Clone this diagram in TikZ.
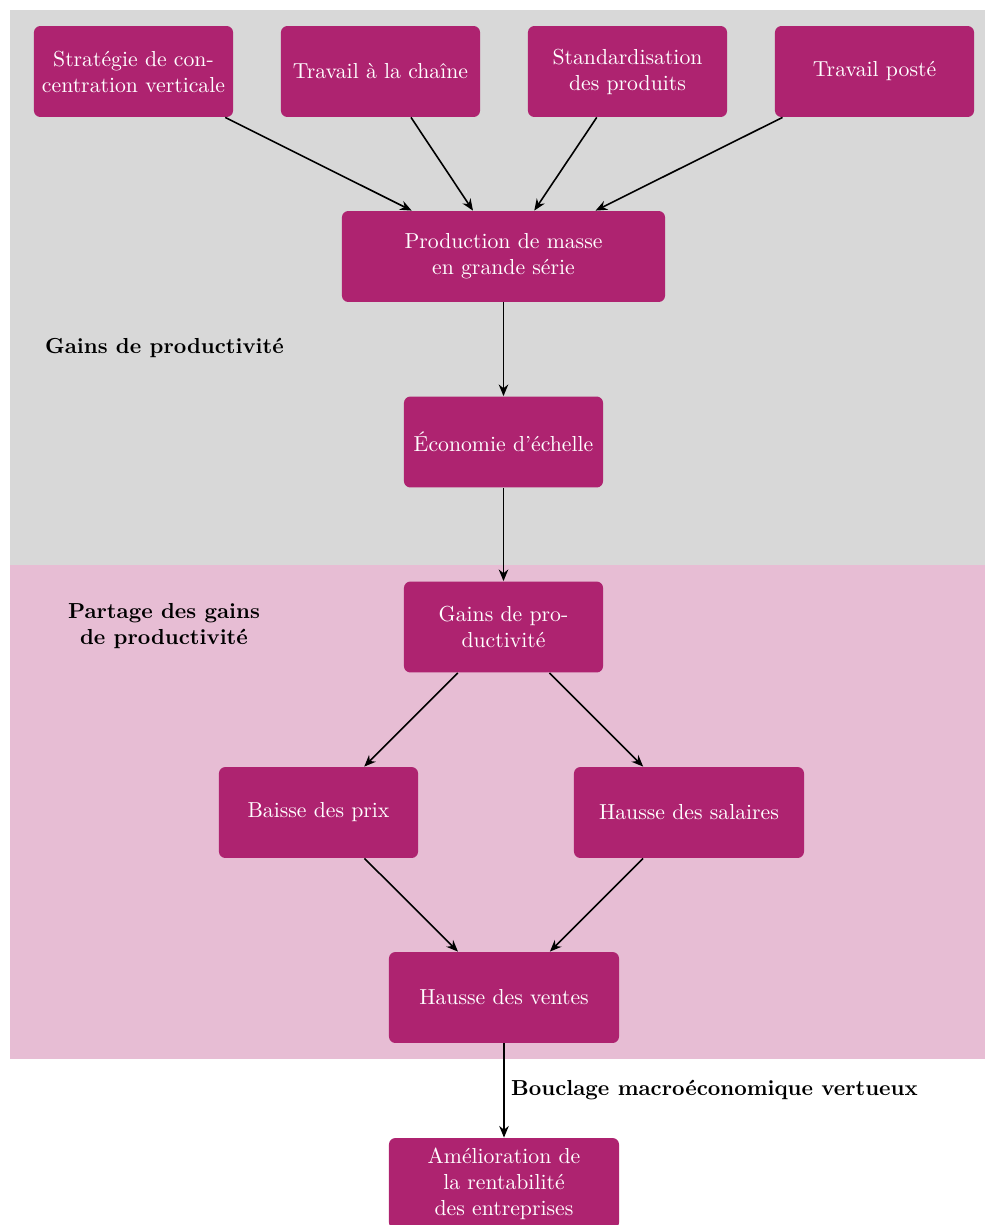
\documentclass[tikz,border=0pt]{standalone}
\usetikzlibrary{arrows.meta}
\definecolor{mag}{RGB}{174,35,112}
\definecolor{bggray}{RGB}{216,216,216}
\begin{document}
\begin{tikzpicture}[x=0.4717pt,y=-0.4717pt,
  every node/.style={font=\fontsize{10.25pt}{12.3pt}\selectfont},
  box/.style={fill=mag, text=white, rounded corners=3pt, align=center,
    minimum width=93.9pt, minimum height=42.9pt, inner sep=2pt},
  wide/.style={minimum width=152.4pt},
  mid/.style={minimum width=108.5pt},
  conn/.style={-{Stealth[length=5.5pt,width=4.5pt]}, line width=0.75pt},
  lab/.style={font=\fontsize{10.25pt}{12.3pt}\selectfont\bfseries, align=center}]
\useasboundingbox (0,0) rectangle (985,1225);
\fill[bggray] (10,10) rectangle (985,565);
\fill[mag!30] (10,565) rectangle (985,1059);

\node[box] (s1) at (133.5,71.5) {Stratégie de con-\\centration verticale};
\node[box] (s2) at (380.5,71.5) {Travail à la chaîne};
\node[box] (s3) at (627.5,71.5) {Standardisation\\des produits};
\node[box] (s4) at (874.5,71.5) {Travail posté};
\node[box,wide] (prod) at (503.5,256.5) {Production de masse\\en grande série};
\node[box] (eco) at (503.5,442) {Économie d'échelle};
\node[box] (gains) at (503.5,627) {Gains de pro-\\ductivité};
\node[box] (baisse) at (318.5,812.5) {Baisse des prix};
\node[box,mid] (sal) at (689,812.5) {Hausse des salaires};
\node[box,mid] (ventes) at (504,997.5) {Hausse des ventes};
\node[box,mid] (amel) at (504,1183.5) {Amélioration de\\la rentabilité\\des entreprises};

\node[lab] (l1) at (164.5,348) {Gains de productivité};
\node[lab] (l2) at (164,626) {Partage des gains\\de productivité};

\foreach \s in {s1,s2,s3,s4} \draw[conn] (\s) -- (prod);
\draw[conn] (prod) -- (eco);
\draw[conn] (eco) -- (gains);
\draw[conn] (gains) -- (baisse);
\draw[conn] (gains) -- (sal);
\draw[conn] (baisse) -- (ventes);
\draw[conn] (sal) -- (ventes);
\draw[conn] (ventes) -- node[lab, right, inner sep=3pt] {Bouclage macroéconomique vertueux} (amel);
\end{tikzpicture}
\end{document}
